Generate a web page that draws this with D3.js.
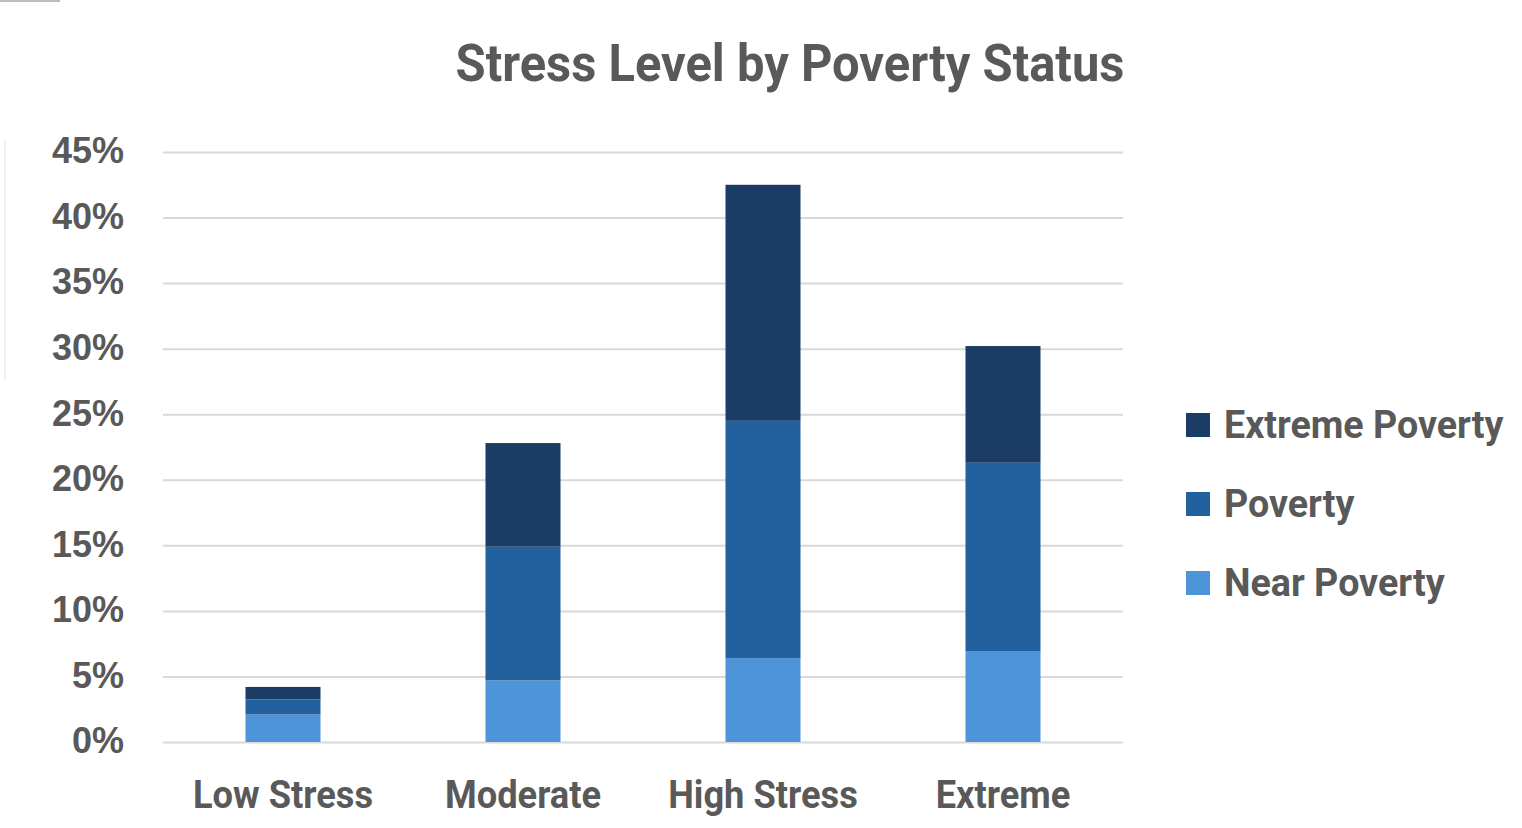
<!DOCTYPE html>
<html>
<head>
<meta charset="utf-8">
<script src="https://cdn.jsdelivr.net/npm/d3@7"></script>
<style>
  html, body { margin: 0; padding: 0; background: #ffffff; }
  svg { display: block; }
</style>
</head>
<body>
<svg id="chart" width="1522" height="828"></svg>
<script>
// Stacked shares (percent of respondents) for each stress level
const categories = ["Low Stress", "Moderate", "High Stress", "Extreme"];
const seriesNames = ["Near Poverty", "Poverty", "Extreme Poverty"];
const nearPoverty    = [2.1, 4.7, 6.4, 6.9];
const poverty        = [1.15, 10.2, 18.1, 14.4];
const extremePoverty = [0.95, 7.9, 18.0, 8.9];
const yTicks = [0, 5, 10, 15, 20, 25, 30, 35, 40, 45];
const legendOrder = ["Extreme Poverty", "Poverty", "Near Poverty"];
const title = "Stress Level by Poverty Status";

const colors = {
  "Near Poverty": "#4e94d8",
  "Poverty": "#23609e",
  "Extreme Poverty": "#1a3c65"
};
const textColor = "#595959";
const condensedFont = "Roboto, 'Liberation Sans', sans-serif";

const rows = categories.map((c, i) => ({
  category: c,
  "Near Poverty": nearPoverty[i],
  "Poverty": poverty[i],
  "Extreme Poverty": extremePoverty[i]
}));

const svg = d3.select("#chart");
const margin = { left: 163, right: 399, top: 152, bottom: 86 };
const width = 1522 - margin.left - margin.right;
const height = 828 - margin.top - margin.bottom;

const x = d3.scaleBand().domain(categories).range([0, width]).paddingInner(0.6875).paddingOuter(0.34375);
const y = d3.scaleLinear().domain([0, 45]).range([height, 0]);

// squeeze text horizontally by a factor
function narrow(factor) {
  return sel => sel.each(function () {
    const w = this.getComputedTextLength();
    d3.select(this).attr("textLength", w * factor).attr("lengthAdjust", "spacingAndGlyphs");
  });
}

// faint frame remnants at the page edge
svg.append("line").attr("x1", 0).attr("x2", 60).attr("y1", 1).attr("y2", 1)
  .attr("stroke", "#bdbdbd").attr("stroke-width", 2);
svg.append("line").attr("x1", 5).attr("x2", 5).attr("y1", 140).attr("y2", 380)
  .attr("stroke", "#f0f0f0").attr("stroke-width", 2);

const g = svg.append("g").attr("transform", `translate(${margin.left},${margin.top})`);

// gridlines + y labels
const yAxis = g.append("g")
  .call(d3.axisLeft(y).tickValues(yTicks).tickSize(-width).tickFormat(d => d + "%"));
yAxis.select(".domain").remove();
yAxis.selectAll(".tick line").attr("stroke", "#d9d9d9").attr("stroke-width", 2);
yAxis.selectAll(".tick text")
  .attr("x", -39)
  .attr("dy", "0.30em")
  .attr("fill", textColor)
  .style("font-family", "'Liberation Sans', Arial, sans-serif")
  .style("font-weight", "bold")
  .style("font-size", "36px");

// stacked bars
const stacked = d3.stack().keys(seriesNames)(rows);
g.append("g").selectAll("g")
  .data(stacked)
  .join("g")
  .attr("fill", d => colors[d.key])
  .selectAll("rect")
  .data(d => d)
  .join("rect")
  .attr("x", d => x(d.data.category))
  .attr("width", x.bandwidth())
  .attr("y", d => y(d[1]))
  .attr("height", d => y(d[0]) - y(d[1]));

// category labels
const xAxis = g.append("g").attr("transform", `translate(0,${height})`)
  .call(d3.axisBottom(x).tickSize(0).tickPadding(66));
xAxis.select(".domain").remove();
xAxis.selectAll(".tick text")
  .attr("fill", textColor)
  .attr("dy", "0")
  .style("font-family", condensedFont)
  .style("font-weight", "bold")
  .style("font-size", "39px")
  .call(narrow(0.93));

// title
svg.append("text")
  .attr("x", margin.left + width / 2 + 147)
  .attr("y", 81)
  .attr("text-anchor", "middle")
  .attr("fill", textColor)
  .style("font-family", condensedFont)
  .style("font-weight", "bold")
  .style("font-size", "52px")
  .text(title)
  .call(narrow(0.94));

// legend
const legend = svg.append("g").attr("transform", `translate(${margin.left + width + 63},0)`);
const ly = d3.scalePoint().domain(legendOrder).range([425, 583]);
const items = legend.selectAll("g").data(legendOrder).join("g")
  .attr("transform", d => `translate(0,${ly(d)})`);
items.append("rect")
  .attr("x", 0).attr("y", -12).attr("width", 24).attr("height", 24)
  .attr("fill", d => colors[d]);
items.append("text")
  .attr("x", 38).attr("y", 0).attr("dy", "0.34em")
  .attr("fill", textColor)
  .style("font-family", condensedFont)
  .style("font-weight", "bold")
  .style("font-size", "38px")
  .text(d => d)
  .call(narrow(0.99));
</script>
</body>
</html>
